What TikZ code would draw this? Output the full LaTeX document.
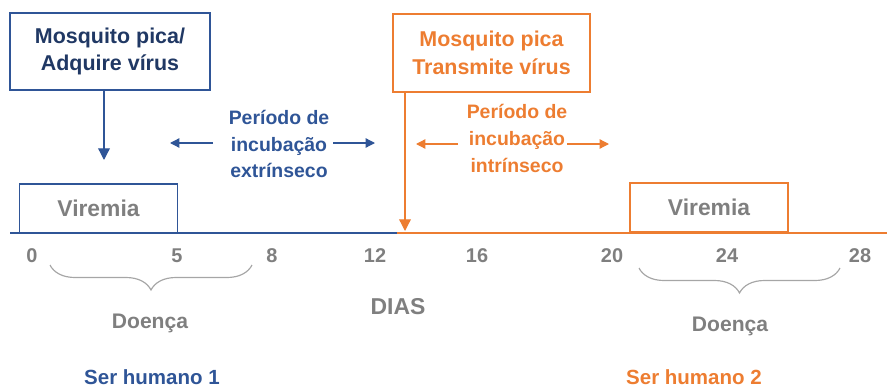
\documentclass[tikz,border=0pt]{standalone}
\usepackage{fontspec}
\setmainfont{Liberation Sans}
\usetikzlibrary{arrows.meta,decorations.pathreplacing}
\definecolor{azul}{HTML}{2F5597}
\definecolor{marinho}{HTML}{203864}
\definecolor{laranja}{HTML}{ED7D31}
\definecolor{cinza}{HTML}{7F7F7F}
\definecolor{cinzaclaro}{HTML}{A6A6A6}

\begin{document}
\begin{tikzpicture}
  [x=0.03cm,y=-0.03cm,
   every node/.style={inner sep=0pt},
   caixa/.style={draw,line width=1.2pt,align=center,font=\bfseries\fontsize{18.3}{23.5}\selectfont},
   viremia/.style={draw,line width=1.2pt,text=cinza,minimum width=4.75cm,minimum height=1.47cm,font=\bfseries\fontsize{19.5}{23}\selectfont},
   incub/.style={align=center,font=\bfseries\fontsize{16.6}{22.8}\selectfont},
   seta/.style={-{Triangle[length=10pt,width=10pt]},line width=1.1pt},
   setinha/.style={-{Triangle[length=8pt,width=8pt]},line width=1.1pt},
   dia/.style={text=cinza,font=\bfseries\fontsize{17}{20}\selectfont},
   chave/.style={draw=cinzaclaro,line width=1pt,decorate,decoration={brace,mirror,amplitude=0.75cm}},
   doenca/.style={text=cinza,font=\bfseries\fontsize{18}{22}\selectfont},
   humano/.style={font=\bfseries\fontsize{17.5}{21}\selectfont}]
  \useasboundingbox (0,0) rectangle (887,388);

  % caixas de cima
  \node[caixa,draw=azul,text=marinho,minimum width=6cm,minimum height=2.31cm] (pica1) at (110,51.5) {Mosquito pica/\\Adquire vírus};
  \node[caixa,draw=laranja,text=laranja,minimum width=5.91cm,minimum height=2.34cm] (pica2) at (491.5,53) {Mosquito pica\\Transmite vírus};

  % viremia
  \node[viremia,draw=azul] (vir1) at (98.5,208.5) {Viremia};
  \node[viremia,draw=laranja] (vir2) at (709,207.5) {Viremia};

  % eixo dos dias
  \coordinate (eixoA) at (10,233);
  \coordinate (eixoB) at (397,233);
  \coordinate (eixoC) at (887,233);
  \draw[azul,line width=1.8pt] (eixoA) -- (eixoB);
  \draw[laranja,line width=1.8pt] (eixoB) -- (eixoC);

  % picadas
  \coordinate (alvo1) at (104,160);
  \coordinate (alvo2) at (405,231);
  \draw[seta,azul] (pica1.south -| alvo1) -- (alvo1);
  \draw[seta,laranja] (pica2.south -| alvo2) -- (alvo2);

  % periodos de incubacao
  \node[incub,text=azul] (inc1) at (279,144) {Período de\\incubação\\extrínseco};
  \node[incub,text=laranja] (inc2) at (517,138.5) {Período de\\incubação\\intrínseco};
  \coordinate (ie1) at (213,143);
  \coordinate (pe1) at (170,143);
  \coordinate (id1) at (333,143);
  \coordinate (pd1) at (375,143);
  \coordinate (ie2) at (458,144);
  \coordinate (pe2) at (416,144);
  \coordinate (id2) at (567,144);
  \coordinate (pd2) at (609,144);
  \foreach \from/\to in {ie1/pe1,id1/pd1}
    \draw[setinha,azul] (\from) -- (\to);
  \foreach \from/\to in {ie2/pe2,id2/pd2}
    \draw[setinha,laranja] (\from) -- (\to);

  % dias
  \foreach \x/\n in {32/0,177/5,272/8,375/12,477/16,612/20,727/24,860/28}
    \node[dia] (d\n) at (\x,256) {\n};
  \node[text=cinza,font=\bfseries\fontsize{19.6}{23}\selectfont] (dias) at (398,307) {DIAS};

  % doenca
  \coordinate (ch1a) at (50,265);
  \coordinate (ch1b) at (252,265);
  \coordinate (ch2a) at (639,268);
  \coordinate (ch2b) at (840,268);
  \draw[chave] (ch1a) -- (ch1b);
  \draw[chave] (ch2a) -- (ch2b);
  \node[doenca] (doe1) at (150,323) {Doença};
  \node[doenca] (doe2) at (730,326) {Doença};

  \node[humano,text=azul] (hum1) at (152,377) {Ser humano 1};
  \node[humano,text=laranja] (hum2) at (694,377) {Ser humano 2};

\end{tikzpicture}
\end{document}
